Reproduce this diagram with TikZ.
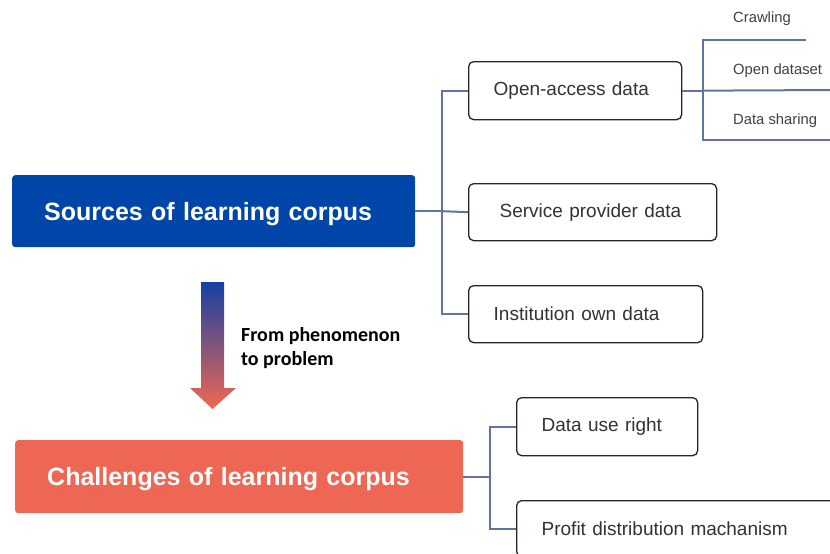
\documentclass[tikz,border=0pt]{standalone}
\usepackage{fontspec}
\setmainfont{Liberation Sans}
\newfontfamily\calibrifont{Carlito}
\definecolor{srcblue}{HTML}{0046A9}
\definecolor{chalred}{HTML}{EE6755}
\definecolor{arrowtop}{HTML}{1440A4}
\definecolor{arrowbot}{HTML}{F06852}
\definecolor{connc}{HTML}{62739C}
\definecolor{boxtext}{HTML}{333333}
\tikzset{
  titlebox/.style={rounded corners=3pt, text=white, font=\fontsize{25}{30}\selectfont\bfseries,
    inner xsep=32pt, inner ysep=0pt, align=left, anchor=north west, text depth=0pt},
  itembox/.style={draw=black!85, line width=1.3pt, rounded corners=5pt, fill=white,
    font=\fontsize{19}{23}\selectfont, text=boxtext, inner xsep=25pt, inner ysep=0pt,
    align=left, anchor=north west},
  smalllabel/.style={font=\fontsize{14.8}{18}\selectfont, text=black!75, inner sep=0pt, anchor=base west},
  conn/.style={draw=connc, line width=2pt},
}
\begin{document}
\begin{tikzpicture}[x=1pt,y=-1pt]
\useasboundingbox (0,0) rectangle (830,554);
\clip (0,0) rectangle (830,554);

% title boxes
\node[titlebox, fill=srcblue, minimum width=403pt, minimum height=72pt, text width=339pt] (src) at (12,175) {Sources of learning corpus};
\node[titlebox, fill=chalred, minimum width=448pt, minimum height=73pt, text width=384pt] (chal) at (15,440) {Challenges of learning corpus};

% item boxes
\node[itembox, minimum width=213pt, minimum height=58pt, text width=163pt] (oa) at (468,61) {Open-access data};
\node[itembox, minimum width=248pt, minimum height=57pt, inner xsep=31pt, text width=186pt] (spd) at (468,183) {Service provider data};
\node[itembox, minimum width=234pt, minimum height=57pt, text width=184pt] (iod) at (468,285) {Institution own data};
\node[itembox, minimum width=181pt, minimum height=58pt, text width=131pt] (dur) at (516,397) {Data use right};
\node[itembox, minimum width=360pt, minimum height=56pt, text width=310pt] (pdm) at (516,500) {Profit distribution machanism};

% small labels
\node[smalllabel] (crawl) at (733,23) {Crawling};
\node[smalllabel] (opends) at (733,74) {Open dataset};
\node[smalllabel] (dshare) at (733,124) {Data sharing};

% connectors
\draw[conn] (src.east) -- ++(27,0) coordinate (j1);
\draw[conn] (oa.west) -| (j1) |- (iod.west);
\draw[conn] (j1) -- (spd.west);

\draw[conn] (oa.east) -- ++(21,0) coordinate (j2);
\coordinate (c1) at (806,40);
\coordinate (c2) at (835,90);
\coordinate (c3) at (835,140);
\draw[conn] (c1) -| (j2) |- (c3);
\draw[conn] (j2) -- (c2);

\draw[conn] (chal.east) -- ++(27,0) coordinate (j3);
\draw[conn] (dur.west) -| (j3) |- (pdm.west);

% gradient arrow
\path[top color=arrowtop, bottom color=arrowbot, shading angle=0]
  (201,282) -- (224,282) -- (224,388) -- (236,388) -- (212.5,409) -- (190,388) -- (201,388) -- cycle;
\node[font=\calibrifont\bfseries\fontsize{20}{24}\selectfont, align=left, anchor=north west, inner sep=0pt] (lbl) at (241,327) {From phenomenon\\to problem};
\end{tikzpicture}
\end{document}
